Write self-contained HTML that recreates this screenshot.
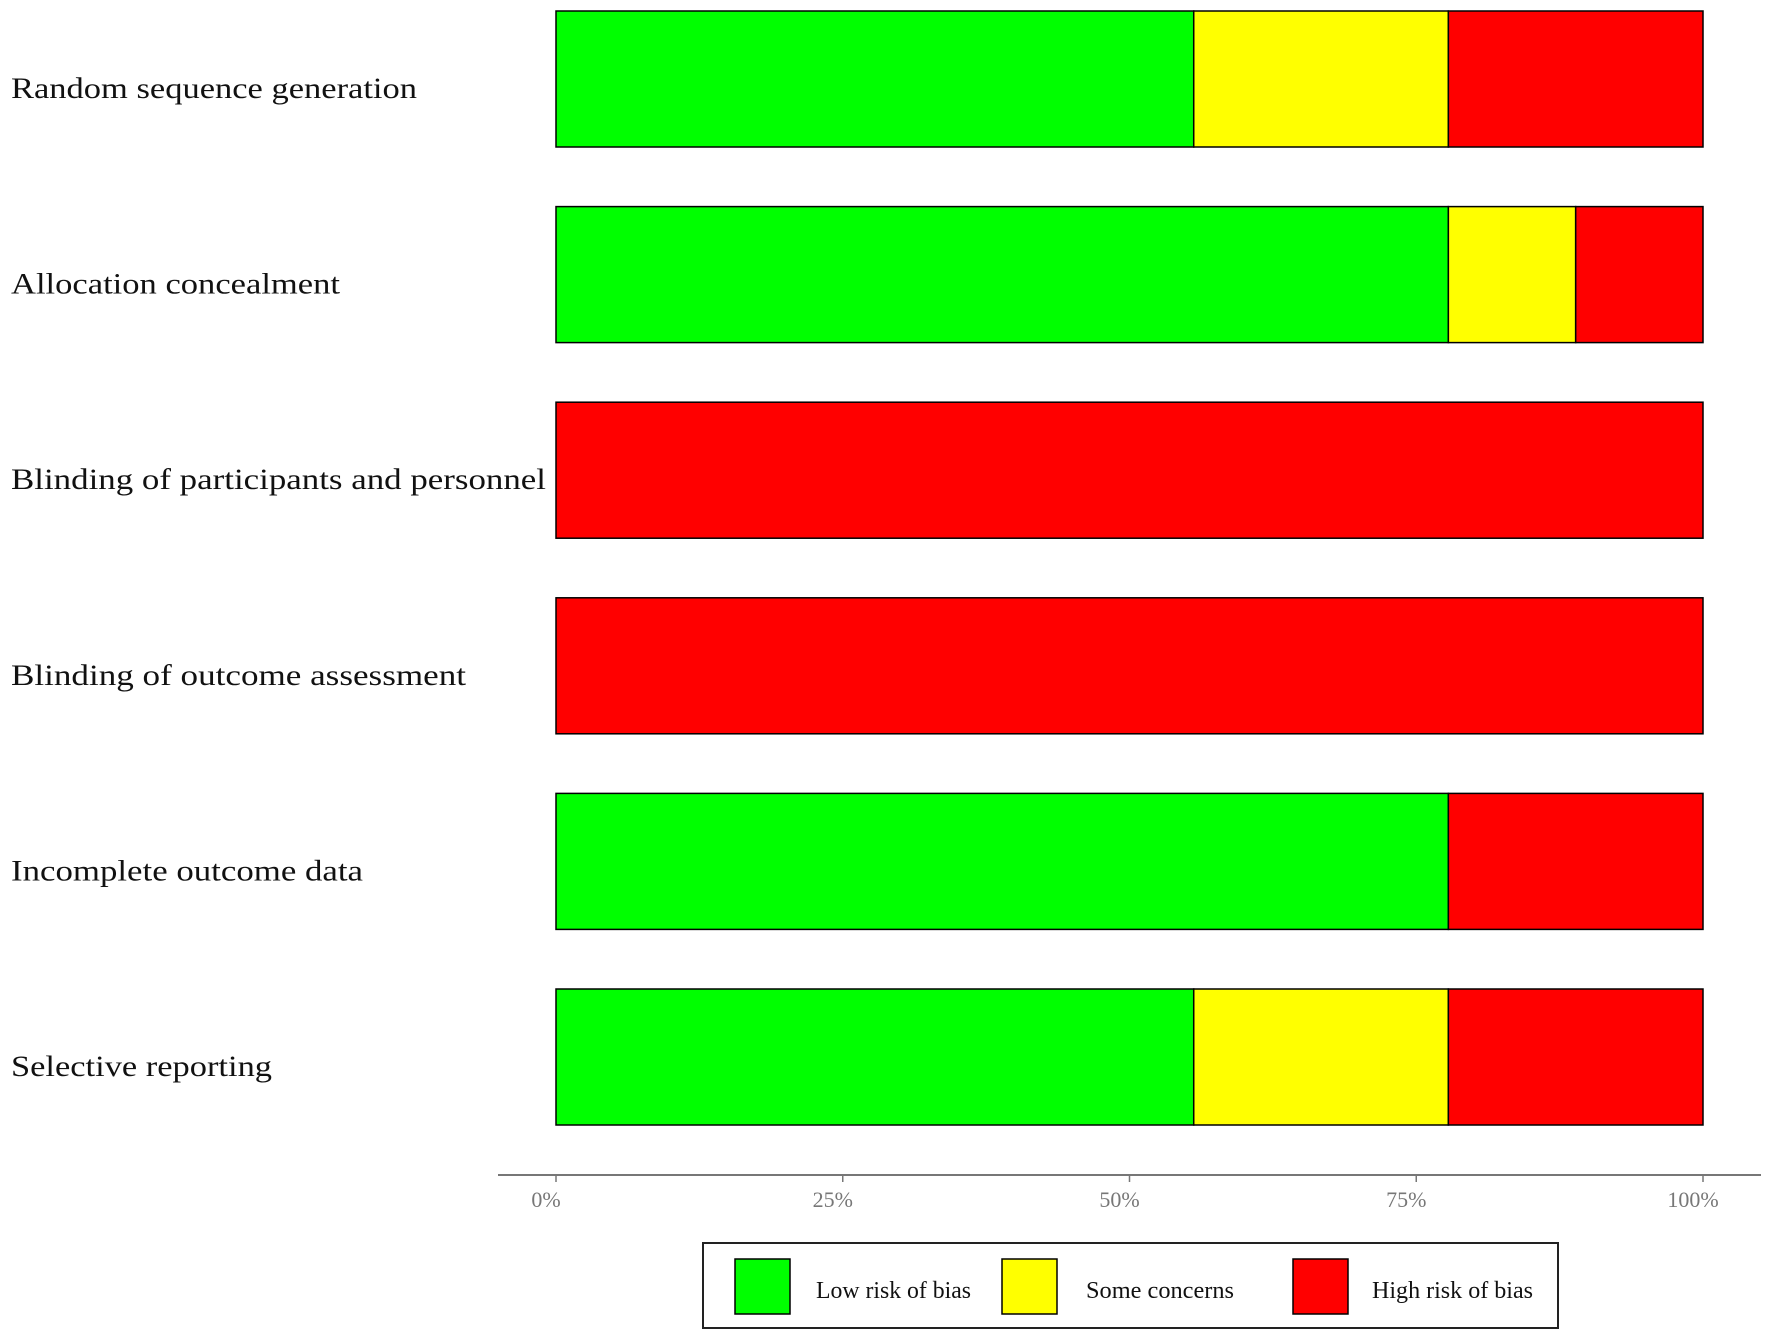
<!DOCTYPE html>
<html><head><meta charset="utf-8"><style>
html,body{margin:0;padding:0;background:#fff;}
svg{display:block;}
</style></head><body>
<svg id="chart" width="1772" height="1340" xmlns="http://www.w3.org/2000/svg" font-family="'Liberation Serif', serif">
<g id="bars"></g>
<g id="labels"></g>
<g id="axis"></g>
<g id="legend"></g>
</svg>
<script>
const domains = ["Random sequence generation","Allocation  concealment","Blinding  of participants and personnel","Blinding  of outcome assessment","Incomplete  outcome data","Selective  reporting"];
const labelWidths = [406,329,535,455,352,261];
const lowRisk = [55.6,77.8,0,0,77.8,55.6];
const someConcerns = [22.2,11.1,0,0,0,22.2];
const highRisk = [22.2,11.1,100,100,22.2,22.2];
const tickValues = [0,25,50,75,100];
const tickLabels = ["0%","25%","50%","75%","100%"];
const legendLabels = ["Low risk of bias","Some concerns","High risk of bias"];
const colors = ["#00ff00","#ffff00","#ff0000"];

const NS="http://www.w3.org/2000/svg";
const x0=556, x1=1703;
const xs=v=>x0+(x1-x0)*v/100;
const rowTop=i=>11+i*195.6;
const barH=136;
function mk(t,a,p){const e=document.createElementNS(NS,t);for(const k in a)e.setAttribute(k,a[k]);p.appendChild(e);return e;}
const bars=document.getElementById('bars'), labels=document.getElementById('labels');
const series=[lowRisk,someConcerns,highRisk];
domains.forEach((d,i)=>{
  let acc=0;
  series.forEach((s,k)=>{
    const v=s[i]; if(v<=0) return;
    const r=mk('rect',{x:xs(acc),y:rowTop(i),width:xs(acc+v)-xs(acc),height:barH,fill:colors[k],stroke:'#000','stroke-width':1.5},bars);
    
    
    acc+=v;
  });
  const t=mk('text',{x:11,y:rowTop(i)+barH/2+19,'font-size':30,fill:'#111',textLength:labelWidths[i],lengthAdjust:'spacingAndGlyphs'},labels);
  t.textContent=d;
  
  
});
const axis=document.getElementById('axis');
const al=mk('line',{x1:498,x2:1761,y1:1175,y2:1175,stroke:'#777','stroke-width':2},axis);


tickValues.forEach((v,i)=>{
  const tk=mk('line',{x1:xs(v),x2:xs(v),y1:1175,y2:1182,stroke:'#777','stroke-width':1.5},axis);
  
  
  const t=mk('text',{x:xs(v)-10,y:1207,'font-size':22,fill:'#777','text-anchor':'middle'},axis);
  t.textContent=tickLabels[i];
  
  
});
const lg=document.getElementById('legend');
const box=mk('rect',{x:703,y:1243,width:855,height:85,fill:'#fff',stroke:'#222','stroke-width':2},lg);


const swX=[735,1002,1293], txX=[816,1086,1372];
legendLabels.forEach((l,i)=>{
  const s=mk('rect',{x:swX[i],y:1259,width:55,height:55,fill:colors[i],stroke:'#000','stroke-width':1.5},lg);
  
  
  const t=mk('text',{x:txX[i],y:1298,'font-size':24,fill:'#111',textLength:[155,148,161][i],lengthAdjust:'spacingAndGlyphs'},lg);
  t.textContent=l;
  
  
});
</script>
</body></html>
